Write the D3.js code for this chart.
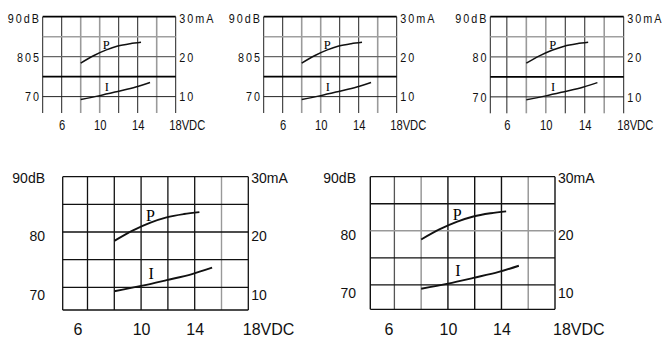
<!DOCTYPE html>
<html><head><meta charset="utf-8">
<script src="https://cdn.jsdelivr.net/npm/d3@7"></script>
<style>
html,body{margin:0;padding:0;background:#fff;}
svg{display:block;}
</style></head>
<body>
<svg id="c" width="663" height="337"></svg>
<script>
// ---- data ----
const xTicks = [6, 10, 14, 18];
const xTickLabels = ["6", "10", "14", "18VDC"];
const dbTicks = [90, 80, 70];
const dbLabelsA = ["90dB", "805", "70"];
const dbLabelsB = ["90dB", "80", "70"];
const maTicks = [30, 20, 10];
const maLabels = ["30mA", "20", "10"];
// P curve: sound level (dB) vs voltage
const pVoltage = [8, 9.4, 10.7, 11.9, 13.2, 14.35];
const pDb = [78.4, 80.3, 81.7, 82.65, 83.25, 83.6];
// I curve: current (mA) vs voltage
const iVoltage = [8, 10, 11.9, 13.8, 15.3];
const iMa = [9.3, 10.25, 11.3, 12.4, 13.55];
const curveNames = ["P", "I"];
const curveNameAt = [[10.7, 83.0], [10.75, 12.6]];

// ---- layout ----
const svg = d3.select("#c");
const panels = [
  {left:42.7, right:175.7, top:16.7, bottom:113, xMin:4.0, yMin:65.9, small:true, dbLabels:dbLabelsA},
  {left:263.7, right:396.7, top:16.7, bottom:113, xMin:4.0, yMin:65.9, small:true, dbLabels:dbLabelsA},
  {left:490.3, right:623.7, top:16.7, bottom:113.3, xMin:4.3, yMin:65.9, small:true, dbLabels:dbLabelsB},
  {left:62.7, right:248.3, top:176.7, bottom:310, xMin:4.15, yMin:65.9, small:false, dbLabels:dbLabelsB,
   leftPad:17.7, sixDx:-10, lastDx:-6},
  {left:370.3, right:555, top:176.7, bottom:309.3, xMin:4.2, yMin:65.5, small:false, dbLabels:dbLabelsB,
   leftPad:14.3, sixDx:-6, lastDx:-2.5}
];

function lineStyle(p, idx, orient, v) {
  if (p.small) {
    if (orient === "v") {
      if (v === 8 || v === 10 || v === 16) return ["#9a9a9a", 1.6];
      return ["#222", 1];
    } else {
      if (v === 90 || v === 75) return ["#000", 1.8];
      if (v === 85) return ["#a0a0a0", 1.6];
      if (v === 80) return ["#666", 1.3];
      return ["#222", 1];
    }
  }
  if (idx === 3) {
    if (orient === "v" && v === 16) return ["#999", 1.4];
    return ["#111", 1.3];
  }
  if (orient === "v") {
    if (v === 8 || v === 16) return ["#999", 1.5];
    if (v === 6) return ["#555", 1.3];
    return ["#111", 1.4];
  } else {
    if (v === 80) return ["#999", 1.5];
    return ["#111", 1.3];
  }
}

panels.forEach((p, idx) => {
  const g = svg.append("g");
  const x = d3.scaleLinear().domain([p.xMin, 18]).range([p.left, p.right]);
  const y = d3.scaleLinear().domain([p.yMin, 90]).range([p.bottom, p.top]);
  const yI = d3.scaleLinear().domain([p.yMin - 60, 30]).range([p.bottom, p.top]);

  const vLines = [p.xMin, 6, 8, 10, 12, 14, 16, 18];
  const hLines = [85, 80, 75, 70];
  if (!p.small) hLines.push(p.yMin);
  hLines.push(90);

  vLines.forEach(v => {
    const [c, w] = lineStyle(p, idx, "v", v);
    g.append("line").attr("x1", x(v)).attr("x2", x(v)).attr("y1", y(90)).attr("y2", y(p.yMin))
      .attr("stroke", c).attr("stroke-width", w);
  });
  hLines.forEach(v => {
    const [c, w] = lineStyle(p, idx, "h", v);
    g.append("line").attr("x1", x(p.xMin)).attr("x2", x(18)).attr("y1", y(v)).attr("y2", y(v))
      .attr("stroke", c).attr("stroke-width", w);
  });

  // curves
  const sw = p.small ? 1.5 : 1.9;
  const lineP = d3.line().x(d => x(d[0])).y(d => y(d[1])).curve(d3.curveMonotoneX);
  const lineI = d3.line().x(d => x(d[0])).y(d => yI(d[1])).curve(d3.curveMonotoneX);
  g.append("path").attr("d", lineP(pVoltage.map((v, i) => [v, pDb[i]])))
    .attr("fill", "none").attr("stroke", "#111").attr("stroke-width", sw);
  g.append("path").attr("d", lineI(iVoltage.map((v, i) => [v, iMa[i]])))
    .attr("fill", "none").attr("stroke", "#111").attr("stroke-width", sw);

  // curve names
  const serifSize = p.small ? 12.5 : 16;
  g.append("text").attr("x", x(curveNameAt[0][0])).attr("y", y(curveNameAt[0][1])).attr("dy", "0.35em")
    .attr("text-anchor", "middle").attr("font-family", "'Liberation Serif','Times New Roman',serif")
    .attr("font-size", serifSize).text(curveNames[0]);
  g.append("text").attr("x", x(curveNameAt[1][0])).attr("y", yI(curveNameAt[1][1])).attr("dy", "0.35em")
    .attr("text-anchor", "middle").attr("font-family", "'Liberation Serif','Times New Roman',serif")
    .attr("font-size", serifSize).text(curveNames[1]);

  // axes
  const font = "'Liberation Sans',Arial,sans-serif";
  const sx = p.small ? 0.8 : 1;          // horizontal condensing for the small panels
  const yFont = p.small ? 13.5 : 14;
  const ls = p.small ? 2.5 : 0;
  const yOff = p.small ? [1.5, 0.8, 0] : [1.3, 4.5, 8];

  const leftPad = p.small ? 1.8 : p.leftPad;
  const rightPad = p.small ? 3.5 : 3;
  const axL = d3.axisLeft(y).tickValues(dbTicks).tickFormat((d, i) => p.dbLabels[i])
    .tickSize(0).tickPadding(leftPad);
  const gl = g.append("g").attr("transform", `translate(${p.left},0)`).call(axL);
  const axR = d3.axisRight(yI).tickValues(maTicks).tickFormat((d, i) => maLabels[i])
    .tickSize(0).tickPadding(rightPad);
  const gr = g.append("g").attr("transform", `translate(${p.right},0)`).call(axR);
  [[gl, -leftPad], [gr, rightPad]].forEach(([ga, px]) => {
    ga.select(".domain").remove();
    ga.selectAll("text").attr("font-family", font).attr("font-size", yFont)
      .attr("letter-spacing", ls).attr("fill", "#111")
      .attr("x", px / sx)
      .attr("transform", (d, i) => `translate(0,${yOff[i]}) scale(${sx},1)`);
  });

  const xLabelY = p.small ? 125 : 329;
  const axB = d3.axisBottom(x).tickValues(xTicks).tickFormat((d, i) => xTickLabels[i])
    .tickSize(0).tickPadding(0);
  const gb = g.append("g").attr("transform", `translate(0,${xLabelY})`).call(axB);
  gb.select(".domain").remove();
  gb.selectAll("text").attr("font-family", font).attr("font-size", p.small ? 14 : 16)
    .attr("fill", "#111").attr("y", 0).attr("dy", "0.36em")
    .attr("transform", `scale(${sx},1)`)
    .attr("text-anchor", (d, i) => i === xTicks.length - 1 ? "start" : "middle")
    .attr("dx", (d, i) => {
      if (i === xTicks.length - 1) return (p.small ? -7 : p.lastDx) / sx;
      if (i === 0 && !p.small) return p.sixDx;
      return 0;
    });
});
</script>
</body></html>
